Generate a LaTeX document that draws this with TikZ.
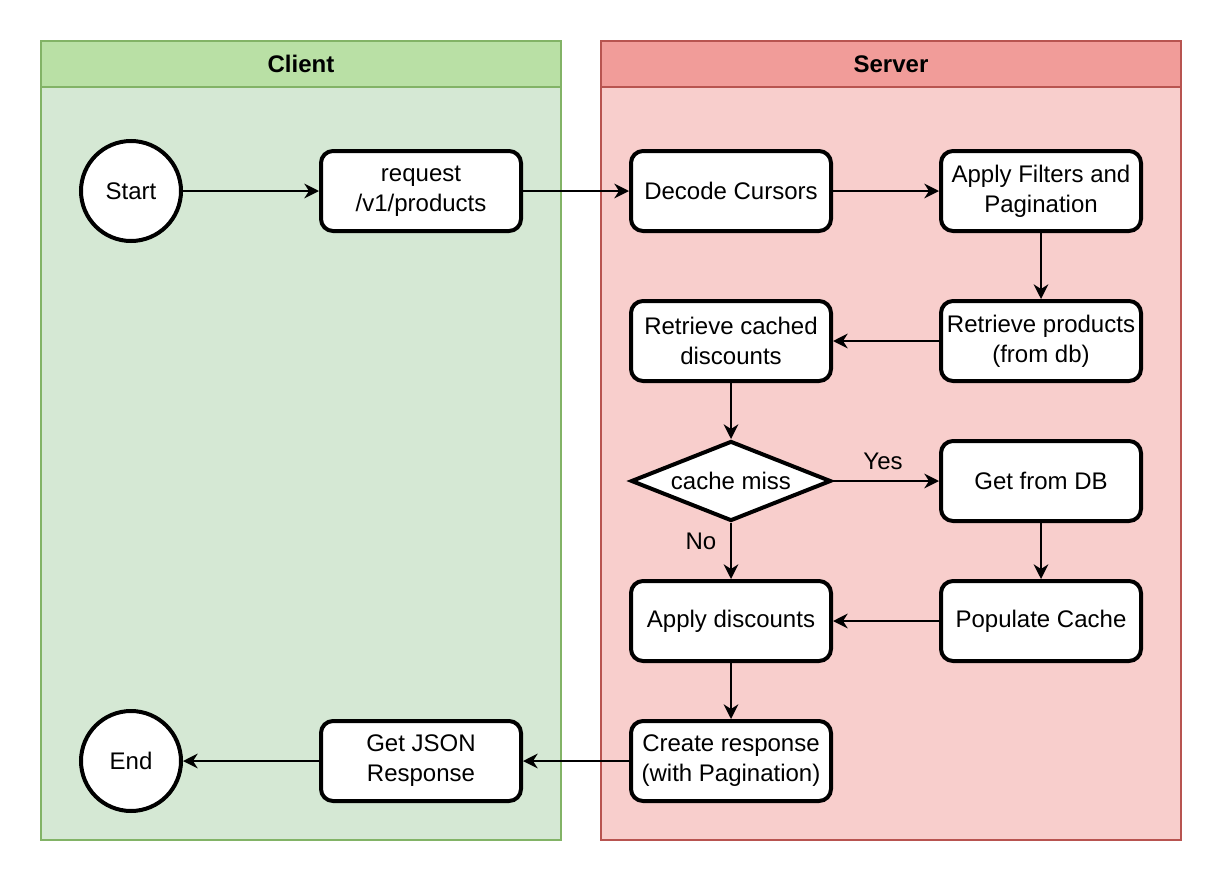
\documentclass[tikz,border=0pt]{standalone}
\usepackage{fontspec}
\setmainfont{Liberation Sans}
\usetikzlibrary{arrows.meta,shapes.geometric}

\definecolor{clienthead}{HTML}{B9E0A5}
\definecolor{clientbody}{HTML}{D5E8D4}
\definecolor{clientline}{HTML}{82B366}
\definecolor{serverhead}{HTML}{F19C99}
\definecolor{serverbody}{HTML}{F8CECC}
\definecolor{serverline}{HTML}{B85450}

\tikzset{every picture/.style={line width=0.75pt}}
\tikzset{
  stepbox/.style={draw=black,fill=white,line width=3pt,rounded corners=9pt,
    minimum width=150pt,minimum height=60pt,inner sep=0pt,align=center,
    font=\fontsize{18}{22.5}\selectfont},
  terminal/.style={draw=black,fill=white,line width=3pt,circle,
    minimum size=75pt,inner sep=0pt,font=\fontsize{18}{22.5}\selectfont},
  decision/.style={draw=black,fill=white,line width=3pt,diamond,shape aspect=2.5,
    minimum width=150pt,minimum height=60pt,inner sep=0pt,
    font=\fontsize{18}{22.5}\selectfont},
  flow/.style={draw=black,line width=1.5pt,-{Stealth[length=11pt,width=11pt,inset=3.5pt]}},
  lanetitle/.style={font=\bfseries\fontsize{18}{22.5}\selectfont},
  edgelabel/.style={font=\fontsize{18}{22.5}\selectfont,inner sep=0pt}
}

\begin{document}
\begin{tikzpicture}[x=0.75pt,y=0.75pt,yscale=-1,xscale=1]
\useasboundingbox (0,0) rectangle (1222,882);
\fill[white] (0,0) rectangle (1222,882);

%Lane: Client
\draw [draw=clientline,fill=clientbody,line width=1.5pt] (41,41) rectangle (561,840);
\draw [draw=clientline,fill=clienthead,line width=1.5pt] (41,41) rectangle (561,87);
%Lane: Server
\draw [draw=serverline,fill=serverbody,line width=1.5pt] (601,41) rectangle (1181,840);
\draw [draw=serverline,fill=serverhead,line width=1.5pt] (601,41) rectangle (1181,87);

% Text Node
\draw (301,64) node [lanetitle] (clienttitle) {Client};
% Text Node
\draw (891,64) node [lanetitle] (servertitle) {Server};

%Shapes: Client
\node [terminal] (start) at (131,191) {Start};
\node [stepbox] (request) at (421,191) {request\\/v1/products};
\node [stepbox] (json) at (421,761) {Get JSON\\Response};
\node [terminal] (finish) at (131,761) {End};

%Shapes: Server
\node [stepbox] (decode) at (731,191) {Decode Cursors};
\node [stepbox] (filters) at (1041,191) {Apply Filters and\\Pagination};
\node [stepbox] (products) at (1041,341) {Retrieve products\\(from db)};
\node [stepbox] (cached) at (731,341) {Retrieve cached\\discounts};
\node [decision] (miss) at (731,481) {cache miss};
\node [stepbox] (getdb) at (1041,481) {Get from DB};
\node [stepbox] (populate) at (1041,621) {Populate Cache};
\node [stepbox] (apply) at (731,621) {Apply discounts};
\node [stepbox] (create) at (731,761) {Create response\\(with Pagination)};

%Straight Lines
\draw [flow] (start) -- (request);
\draw [flow] (request) -- (decode);
\draw [flow] (decode) -- (filters);
\draw [flow] (filters) -- (products);
\draw [flow] (products) -- (cached);
\draw [flow] (cached) -- (miss);
\draw [flow] (miss) -- (getdb);
\draw [flow] (miss) -- (apply);
\draw [flow] (getdb) -- (populate);
\draw [flow] (populate) -- (apply);
\draw [flow] (apply) -- (create);
\draw [flow] (create) -- (json);
\draw [flow] (json) -- (finish);

% Text Node
\draw (883,461) node [edgelabel] (yes) {Yes};
% Text Node
\draw (701,541) node [edgelabel] (no) {No};

\end{tikzpicture}
\end{document}
